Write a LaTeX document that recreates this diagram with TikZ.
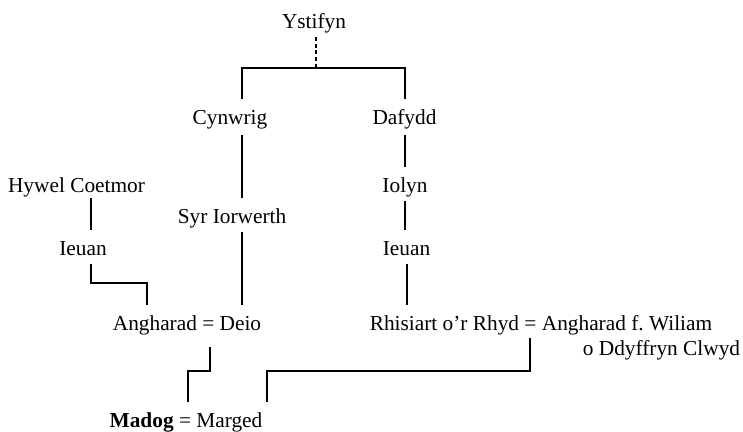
\documentclass[tikz,border=0pt]{standalone}
\usepackage{fontspec}
\setmainfont{Liberation Serif}
\frenchspacing
\begin{document}
\begin{tikzpicture}[x=0.75pt,y=-0.75pt,
  person/.style={anchor=base,inner xsep=0pt,inner ysep=0pt,text height=18.5pt,text depth=6.5pt,font=\fontsize{16}{19}\selectfont},
  link/.style={line width=1.5pt},
  dlink/.style={line width=0.9pt,dash pattern=on 3pt off 2pt}]
\useasboundingbox (0,0) rectangle (743,432);
% people
\node[person] (ys) at (314,28) {Ystifyn};
\node[person] (cyn) at (230,124) {Cynwrig};
\node[person] (daf) at (404.5,124) {Dafydd};
\node[person] (hyw) at (76.5,192) {Hywel Coetmor};
\node[person] (iol) at (405,192) {Iolyn};
\node[person] (syr) at (232,223) {Syr Iorwerth};
\node[person] (ieul) at (83,255) {Ieuan};
\node[person] (ieur) at (406.5,255) {Ieuan};
\node[person] (ad) at (187,330) {Angharad = Deio};
\node[person] (rh) at (541,330) {Rhisiart o’r Rhyd = Angharad f.\ Wiliam};
\node[person] (ddy) at (661.5,355) {o Ddyffryn Clwyd};
\node[person] (mm) at (186,427) {\textbf{Madog} = Marged};
% line positions
\coordinate (top) at (316,68);
\coordinate (xc) at (242,0);
\coordinate (xd) at (405,0);
\coordinate (xh) at (90.5,0);
\coordinate (xr) at (407,0);
\coordinate (e1) at (147,283);
\coordinate (dz) at (210,347);
\coordinate (e2) at (188,371);
\coordinate (rz) at (530,338);
\coordinate (e3) at (267,371);
% connectors
\draw[dlink] (ys.south -| top) -- (top);
\draw[link] (cyn.north -| xc) |- (top) -| (daf.north -| xd);
\draw[link] ([yshift=-1.5]cyn.south -| xc) -- (syr.north -| xc);
\draw[link] (syr.south -| xc) -- (ad.north -| xc);
\draw[link] ([yshift=-1.5]daf.south -| xd) -- (iol.north -| xd);
\draw[link] (iol.south -| xd) -- (ieur.north -| xd);
\draw[link] (ieur.south -| xr) -- (rh.north -| xr);
\draw[link] ([yshift=2]hyw.south -| xh) -- (ieul.north -| xh);
\draw[link] (ieul.south -| xh) |- (e1) -- (ad.north -| e1);
\draw[link] (dz) |- (e2) -- (mm.north -| e2);
\draw[link] (rz) |- (e3) -- (mm.north -| e3);
\end{tikzpicture}
\end{document}
